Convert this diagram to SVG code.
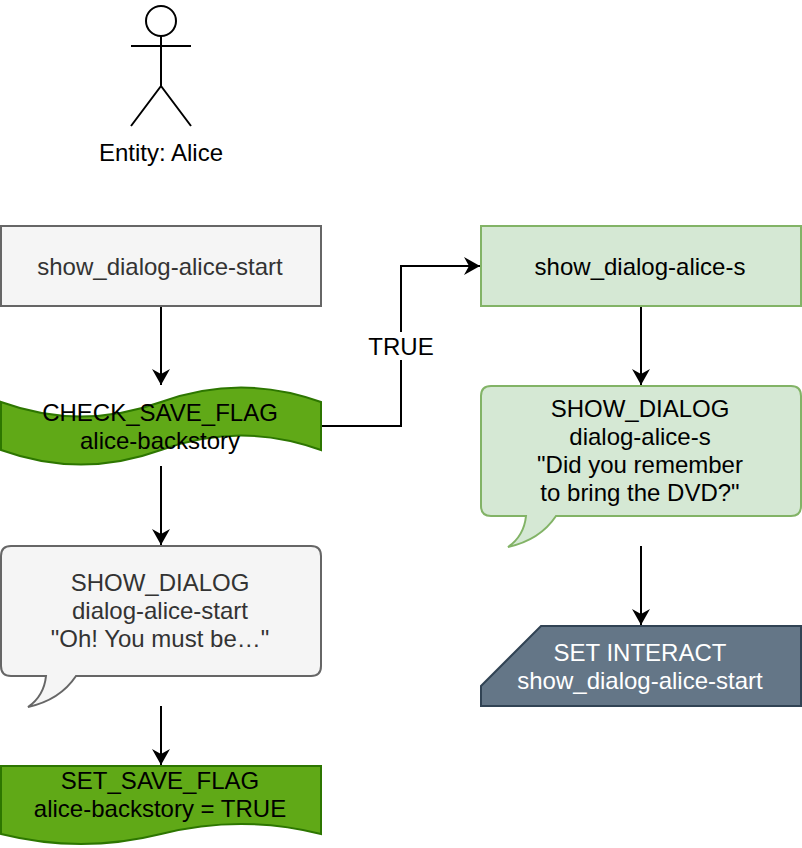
<svg xmlns="http://www.w3.org/2000/svg" width="802" height="848" viewBox="0 0 802 848">
<style>
text{font-family:"Liberation Sans",Arial,sans-serif;font-size:24px;text-anchor:middle;fill:#000}
.shape{stroke-width:2}
.grey{fill:#f5f5f5;stroke:#666666}
.greyt{fill:#333333}
.lg{fill:#d5e8d4;stroke:#82b366}
.dg{fill:#60a917;stroke:#2d7600}
.sl{fill:#647687;stroke:#314354}
.line{fill:none;stroke:#000;stroke-width:2}
</style>
<defs>
<marker id="arrow" markerUnits="userSpaceOnUse" markerWidth="20" markerHeight="20" refX="16" refY="9" orient="auto">
<path d="M16 9L0 0L5 9L0 18Z" fill="#000"/>
</marker>
</defs>
<rect width="802" height="848" fill="#fff"/>
<g id="connectors">
<path class="line" d="M161 306V385" marker-end="url(#arrow)"/>
<path class="line" d="M161 466V545" marker-end="url(#arrow)"/>
<path class="line" d="M161 706V765" marker-end="url(#arrow)"/>
<path class="line" d="M641 306V385" marker-end="url(#arrow)"/>
<path class="line" d="M641 546V625" marker-end="url(#arrow)"/>
<path class="line" d="M321 426H401V266H480" marker-end="url(#arrow)"/>
<rect x="367" y="332" width="68" height="28" fill="#fff"/>
<text x="401" y="355">TRUE</text>
</g>
<g id="actor-alice">
<circle class="line" cx="161" cy="21" r="15"/>
<path class="line" d="M161 36V86M131 46H191M161 86L131 126M161 86L191 126"/>
<text x="161" y="161">Entity: Alice</text>
</g>
<g id="node-show-dialog-alice-start">
<rect class="shape grey" x="1" y="226" width="320" height="80"/>
<text class="greyt" x="160" y="275">show_dialog-alice-start</text>
</g>
<g id="node-check-save-flag">
<path class="shape dg" d="M1 402Q81 431 161 402Q241 373 321 402V450Q241 421 161 450Q81 479 1 450Z"/>
<text x="160" y="421">CHECK_SAVE_FLAG</text>
<text x="160" y="449">alice-backstory</text>
</g>
<g id="node-show-dialog-start-callout">
<path class="shape grey" d="M11 546H311Q321 546 321 556V666Q321 676 311 676H76Q60 700 28 707Q44 696 46 676H11Q1 676 1 666V556Q1 546 11 546Z"/>
<text class="greyt" x="160" y="591">SHOW_DIALOG</text>
<text class="greyt" x="160" y="619">dialog-alice-start</text>
<text class="greyt" x="160" y="647">"Oh! You must be…"</text>
</g>
<g id="node-set-save-flag">
<path class="shape dg" d="M1 766H321V834Q241 814 161 834Q81 854 1 834Z"/>
<text x="160" y="789">SET_SAVE_FLAG</text>
<text x="160" y="817">alice-backstory = TRUE</text>
</g>
<g id="node-show-dialog-alice-s">
<rect class="shape lg" x="481" y="226" width="320" height="80"/>
<text x="640" y="275">show_dialog-alice-s</text>
</g>
<g id="node-show-dialog-s-callout">
<path class="shape lg" d="M491 386H791Q801 386 801 396V506Q801 516 791 516H556Q540 540 508 547Q524 536 526 516H491Q481 516 481 506V396Q481 386 491 386Z"/>
<text x="640" y="417">SHOW_DIALOG</text>
<text x="640" y="445">dialog-alice-s</text>
<text x="640" y="473">"Did you remember</text>
<text x="640" y="501">to bring the DVD?"</text>
</g>
<g id="node-set-interact">
<path class="shape sl" d="M541 626H801V706H481V686Z"/>
<text x="640" y="661" style="fill:#fff">SET INTERACT</text>
<text x="640" y="689" style="fill:#fff">show_dialog-alice-start</text>
</g>
</svg>
